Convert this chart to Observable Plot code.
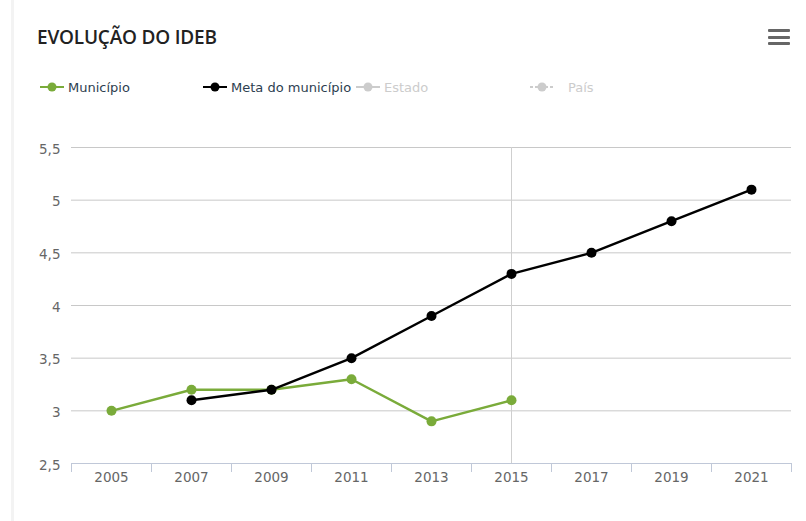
<!DOCTYPE html>
<html><head><meta charset="utf-8">
<script src="https://cdn.jsdelivr.net/npm/d3@7"></script>
<script src="https://cdn.jsdelivr.net/npm/@observablehq/plot@0.6"></script>
<style>
body{margin:0;background:#fff;font-family:"DejaVu Sans",sans-serif;}
#wrap{position:relative;width:806px;height:521px;overflow:hidden;}
#border{position:absolute;left:11px;top:0;width:3px;height:521px;background:#f3f3f3;}
#title{position:absolute;left:37px;top:24px;font-family:"Open Sans",sans-serif;font-weight:600;font-size:19px;color:#222;white-space:nowrap;letter-spacing:-0.2px;}
#menu{position:absolute;left:768px;top:29px;width:22px;}
#menu div{height:3px;background:#666;margin-bottom:3.5px;border-radius:1px;}
.leg{position:absolute;top:79px;font-size:13px;display:flex;align-items:center;white-space:nowrap;}
.leg svg{margin-right:4px;}
#chart{position:absolute;left:0;top:110px;}
</style></head>
<body><div id="wrap">
<div id="border"></div>
<div id="title">EVOLUÇÃO DO IDEB</div>
<div id="menu"><div></div><div></div><div></div></div>
<div id="legend"></div>
<div id="chart"></div>
</div>
<script>
const years = [2005, 2007, 2009, 2011, 2013, 2015, 2017, 2019, 2021];
const municipioYears = [2005, 2007, 2009, 2011, 2013, 2015];
const municipio = [3.0, 3.2, 3.2, 3.3, 2.9, 3.1];
const metaYears = [2007, 2009, 2011, 2013, 2015, 2017, 2019, 2021];
const meta = [3.1, 3.2, 3.5, 3.9, 4.3, 4.5, 4.8, 5.1];
const yTicks = [2.5, 3, 3.5, 4, 4.5, 5, 5.5];
const bandEdges = [2004, 2006, 2008, 2010, 2012, 2014, 2016, 2018, 2020, 2022];
const highlightYear = 2015;
const seriesNames = ["Município", "Meta do município", "Estado", "País"];
const seriesColors = ["#7aab3a", "#000000", "#cccccc", "#cccccc"];
const legendX = [40, 203, 356, 530];

// legend
const legend = document.getElementById("legend");
seriesNames.forEach((n, i) => {
  const el = document.createElement("div");
  el.className = "leg";
  el.style.left = legendX[i] + "px";
  const c = seriesColors[i];
  const textColor = i < 2 ? "#2d3e50" : "#cccccc";
  const dash = i === 3 ? ' stroke-dasharray="3,2"' : '';
  el.innerHTML = `<svg width="24" height="16"><line x1="0" y1="8" x2="24" y2="8" stroke="${c}" stroke-width="2"${dash}/><circle cx="12" cy="8" r="4.5" fill="${c}"/></svg><span style="color:${textColor}">${n}</span>`;
  if (i === 3) el.querySelector("span").style.marginLeft = "10px";
  legend.appendChild(el);
});

const munData = municipioYears.map((y, i) => ({year: y, value: municipio[i]}));
const metaData = metaYears.map((y, i) => ({year: y, value: meta[i]}));
const fmt = v => String(v).replace(".", ",");

const chart = Plot.plot({
  width: 806,
  height: 400,
  marginTop: 37,
  marginBottom: 47,
  marginLeft: 71,
  marginRight: 15,
  style: {fontFamily: "DejaVu Sans, sans-serif", fontSize: "13.5px", color: "#666", background: "transparent"},
  x: {domain: [2004, 2022], label: null},
  y: {domain: [2.5, 5.5], label: null},
  marks: [
    Plot.ruleY(yTicks.filter(t => t > 2.5), {y: d => d, stroke: "#c8c8c8", strokeWidth: 1}),
    Plot.ruleX([highlightYear], {x: d => d, y1: 2.5, y2: 5.5, stroke: "#cfcfcf", strokeWidth: 1}),
    Plot.ruleY([2.5], {y: d => d, stroke: "#c0c8d8", strokeWidth: 1}),
    Plot.axisX({ticks: bandEdges, tickSize: 9, tickFormat: () => "", stroke: "#c0c8d8", label: null}),
    Plot.axisX({ticks: years, tickSize: 0, tickPadding: 9, tickFormat: d => String(d), fill: "#666", label: null}),
    Plot.axisY({ticks: yTicks, tickSize: 0, tickPadding: 11, tickFormat: fmt, fill: "#666", label: null, dy: 2}),
    Plot.line(munData, {x: "year", y: "value", stroke: seriesColors[0], strokeWidth: 2.4}),
    Plot.dot(munData, {x: "year", y: "value", r: 5, fill: seriesColors[0]}),
    Plot.line(metaData, {x: "year", y: "value", stroke: seriesColors[1], strokeWidth: 2.4}),
    Plot.dot(metaData, {x: "year", y: "value", r: 5, fill: seriesColors[1]})
  ]
});
document.getElementById("chart").appendChild(chart);
</script>
</body></html>
